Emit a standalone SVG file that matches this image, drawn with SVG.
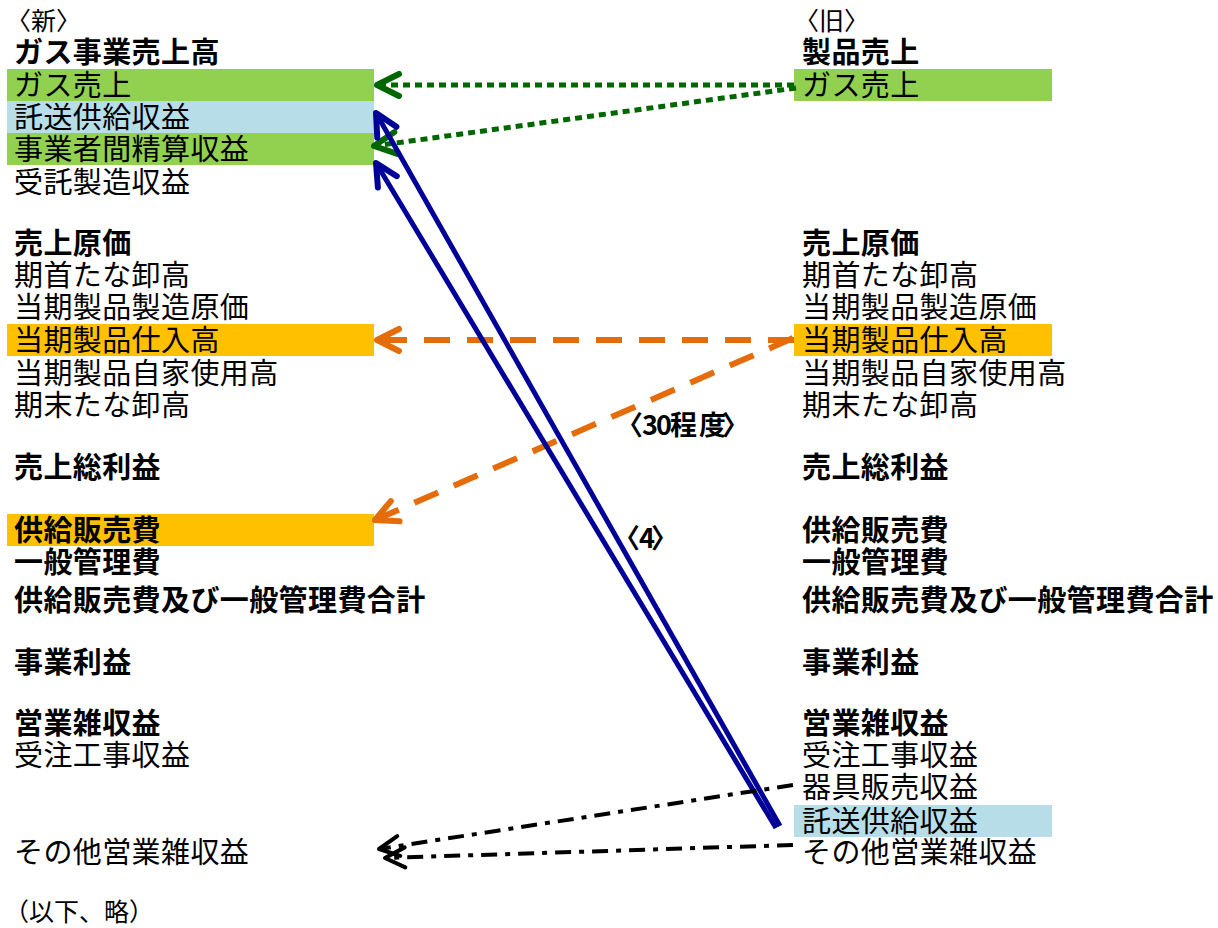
<svg xmlns="http://www.w3.org/2000/svg" width="1218" height="928" viewBox="0 0 1218 928">
<style>
text{font-family:"Noto Sans CJK JP","Noto Sans",sans-serif;font-size:29px;fill:#000;letter-spacing:0.4px}
.b{font-weight:bold}
.hd{font-size:25px;letter-spacing:0}
.lbl{font-size:27px;font-weight:bold;letter-spacing:0}
.g{fill:#92D050}.lb{fill:#B7DEE8}.o{fill:#FFC000}
.cg{stroke:#006600;stroke-width:5;fill:none;stroke-dasharray:7 5}
.co{stroke:#E46C0A;stroke-width:6;fill:none;stroke-dasharray:26 17}
.cb{stroke:#000099;stroke-width:5;fill:none}
.ck{stroke:#000;stroke-width:4;fill:none;stroke-dasharray:16 8 5 8}
</style>
<defs>
<marker id="mg" markerUnits="userSpaceOnUse" markerWidth="40" markerHeight="40" viewBox="-30 -20 40 40" refX="0" refY="0" orient="auto" overflow="visible"><path d="M-22 -11 L0 0 L-22 11" fill="none" stroke="#006600" stroke-width="6" stroke-linecap="round" stroke-linejoin="round"/></marker>
<marker id="mo" markerUnits="userSpaceOnUse" markerWidth="40" markerHeight="40" viewBox="-30 -20 40 40" refX="0" refY="0" orient="auto" overflow="visible"><path d="M-22 -11 L0 0 L-22 11" fill="none" stroke="#E46C0A" stroke-width="6" stroke-linecap="round" stroke-linejoin="round"/></marker>
<marker id="mb" markerUnits="userSpaceOnUse" markerWidth="40" markerHeight="40" viewBox="-30 -20 40 40" refX="0" refY="0" orient="auto" overflow="visible"><path d="M-22 -11 L0 0 L-22 11" fill="none" stroke="#000099" stroke-width="6" stroke-linecap="round" stroke-linejoin="round"/></marker>
<marker id="mk" markerUnits="userSpaceOnUse" markerWidth="40" markerHeight="40" viewBox="-30 -20 40 40" refX="0" refY="0" orient="auto" overflow="visible"><path d="M-20 -10 L0 0 L-20 10" fill="none" stroke="#000" stroke-width="4" stroke-linecap="round" stroke-linejoin="round"/></marker>
</defs>

<g id="new-column">
<g id="n-head"><text class="hd" x="6" y="30">〈新〉</text></g>
<g id="n-gas-sales-total"><text class="b" x="14" y="63">ガス事業売上高</text></g>
<g id="n-gas-sales"><rect class="g" x="7" y="69" width="367" height="32"/><text x="14" y="96">ガス売上</text></g>
<g id="n-takuso"><rect class="lb" x="7" y="101" width="367" height="32"/><text x="14" y="128">託送供給収益</text></g>
<g id="n-jigyosha"><rect class="g" x="7" y="133" width="367" height="32"/><text x="14" y="160">事業者間精算収益</text></g>
<g id="n-jutaku"><text x="14" y="193">受託製造収益</text></g>
<g id="n-genka"><text class="b" x="14" y="254">売上原価</text></g>
<g id="n-kishu"><text x="14" y="286">期首たな卸高</text></g>
<g id="n-seizo"><text x="14" y="318">当期製品製造原価</text></g>
<g id="n-shiire"><rect class="o" x="7" y="324" width="367" height="32"/><text x="14" y="351">当期製品仕入高</text></g>
<g id="n-jika"><text x="14" y="384">当期製品自家使用高</text></g>
<g id="n-kimatsu"><text x="14" y="416">期末たな卸高</text></g>
<g id="n-sorieki"><text class="b" x="14" y="478">売上総利益</text></g>
<g id="n-hanbai"><rect class="o" x="7" y="514" width="367" height="32"/><text class="b" x="14" y="541">供給販売費</text></g>
<g id="n-kanri"><text class="b" x="14" y="573">一般管理費</text></g>
<g id="n-gokei"><text class="b" x="14" y="611">供給販売費及び一般管理費合計</text></g>
<g id="n-jigyorieki"><text class="b" x="14" y="673">事業利益</text></g>
<g id="n-zatsu"><text class="b" x="14" y="734">営業雑収益</text></g>
<g id="n-juchu"><text x="14" y="766">受注工事収益</text></g>
<g id="n-sonota"><text x="14" y="863">その他営業雑収益</text></g>
<g id="n-ika"><text class="hd" x="4" y="921">（以下、略）</text></g>
</g>

<g id="old-column">
<g id="o-head"><text class="hd" x="794" y="30">〈旧〉</text></g>
<g id="o-seihin"><text class="b" x="802" y="63">製品売上</text></g>
<g id="o-gas-sales"><rect class="g" x="794" y="69" width="258" height="32"/><text x="802" y="96">ガス売上</text></g>
<g id="o-genka"><text class="b" x="802" y="254">売上原価</text></g>
<g id="o-kishu"><text x="802" y="286">期首たな卸高</text></g>
<g id="o-seizo"><text x="802" y="318">当期製品製造原価</text></g>
<g id="o-shiire"><rect class="o" x="794" y="324" width="258" height="32"/><text x="802" y="351">当期製品仕入高</text></g>
<g id="o-jika"><text x="802" y="384">当期製品自家使用高</text></g>
<g id="o-kimatsu"><text x="802" y="416">期末たな卸高</text></g>
<g id="o-sorieki"><text class="b" x="802" y="478">売上総利益</text></g>
<g id="o-hanbai"><text class="b" x="802" y="541">供給販売費</text></g>
<g id="o-kanri"><text class="b" x="802" y="573">一般管理費</text></g>
<g id="o-gokei"><text class="b" x="802" y="611">供給販売費及び一般管理費合計</text></g>
<g id="o-jigyorieki"><text class="b" x="802" y="673">事業利益</text></g>
<g id="o-zatsu"><text class="b" x="802" y="734">営業雑収益</text></g>
<g id="o-juchu"><text x="802" y="766">受注工事収益</text></g>
<g id="o-kigu"><text x="802" y="798">器具販売収益</text></g>
<g id="o-takuso"><rect class="lb" x="794" y="805" width="258" height="32"/><text x="802" y="832">託送供給収益</text></g>
<g id="o-sonota"><text x="802" y="863">その他営業雑収益</text></g>
</g>

<g id="connectors">
<line class="cg" x1="794" y1="85" x2="377" y2="85" marker-end="url(#mg)"/>
<line class="cg" x1="796" y1="88" x2="374" y2="146" marker-end="url(#mg)"/>
<line class="co" x1="794" y1="340" x2="377" y2="340" marker-end="url(#mo)"/>
<line class="co" x1="793" y1="338" x2="375" y2="520" marker-end="url(#mo)"/>
<line class="cb" x1="780" y1="826" x2="376" y2="113" marker-end="url(#mb)"/>
<line class="cb" x1="776" y1="828" x2="376" y2="163" marker-end="url(#mb)"/>
<line class="ck" x1="793" y1="785" x2="379" y2="849" marker-end="url(#mk)"/>
<line class="ck" x1="793" y1="845" x2="385" y2="858" marker-end="url(#mk)"/>
</g>

<g id="labels">
<text class="lbl" x="616 642 656 670 699 722" y="435">〈30程度〉</text>
<text class="lbl" x="613 639 651" y="548">〈4〉</text>
</g>
</svg>
